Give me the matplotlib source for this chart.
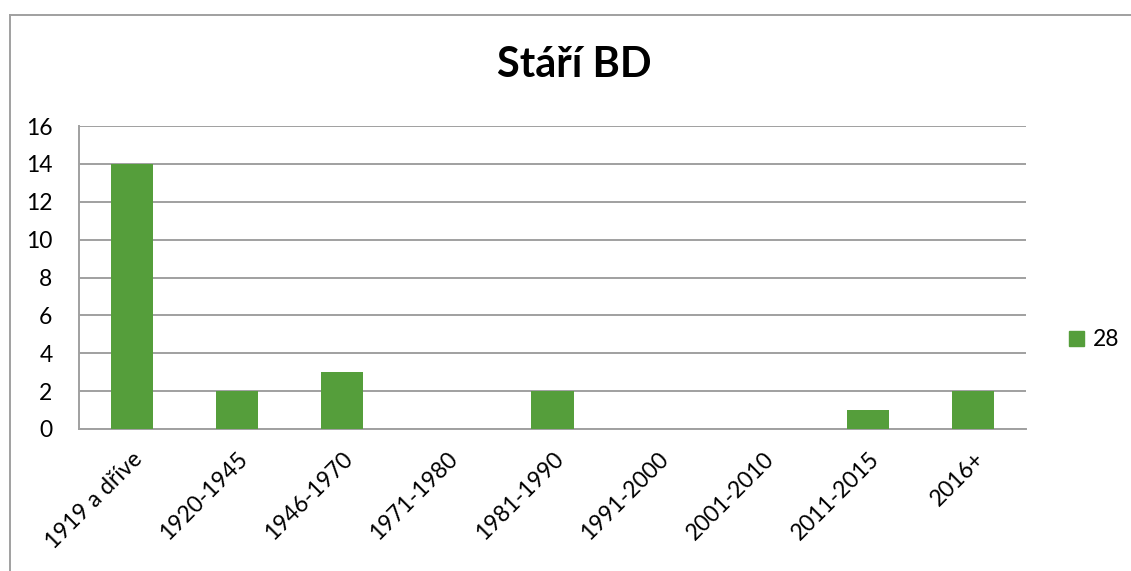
import matplotlib
matplotlib.use("Agg")
import matplotlib.pyplot as plt
from matplotlib.lines import Line2D
from matplotlib.patches import Patch

categories = ["1919 a dříve", "1920-1945", "1946-1970", "1971-1980", "1981-1990",
              "1991-2000", "2001-2010", "2011-2015", "2016+"]
values = [14, 2, 3, 0, 2, 0, 0, 1, 2]
series_name = "28"
y_ticks = [0, 2, 4, 6, 8, 10, 12, 14, 16]

GREEN = "#559E3B"
GRID = "#A0A0A0"

plt.rcParams["font.family"] = ["Lato", "DejaVu Sans"]

fig = plt.figure(figsize=(11.31, 5.71), dpi=100)
ax = fig.add_axes([0.0698, 0.2487, 0.8374, 0.5306])

x = list(range(len(categories)))
ax.bar(x, values, width=0.4, color=GREEN, zorder=3)

ax.set_xlim(-0.5, len(categories) - 0.5)
ax.set_ylim(0, 16)
ax.set_yticks(y_ticks)
ax.set_yticklabels([str(t) for t in y_ticks], fontsize=16.5)
ax.set_xticks(x)
ax.set_xticklabels(categories, fontsize=16.5, rotation=45,
                   ha="right", va="top", rotation_mode="anchor")
ax.tick_params(length=0)
ax.tick_params(axis="y", pad=19)
ax.tick_params(axis="x", pad=14)

ax.grid(axis="y", color=GRID, linewidth=1.4, zorder=0)
for side in ["top", "right"]:
    ax.spines[side].set_visible(False)
for side in ["left", "bottom"]:
    ax.spines[side].set_color(GRID)
    ax.spines[side].set_linewidth(1.4)

fig.text(0.508, 0.886, "Stáří BD", fontsize=30, fontweight="bold",
         ha="center", va="center")

fig.legend(handles=[Patch(color=GREEN, label=series_name)],
           loc="center left", bbox_to_anchor=(0.927, 0.405), frameon=False,
           fontsize=16.5, handlelength=0.65, handleheight=0.65, handletextpad=0.4)

# chart frame
fig.add_artist(Line2D([10 / 1131, 10 / 1131], [0, 1 - 15 / 571],
                      transform=fig.transFigure, color=GRID, linewidth=1.4))
fig.add_artist(Line2D([10 / 1131, 1], [1 - 15 / 571, 1 - 15 / 571],
                      transform=fig.transFigure, color=GRID, linewidth=1.4))

fig.savefig("out.png", dpi=100)
